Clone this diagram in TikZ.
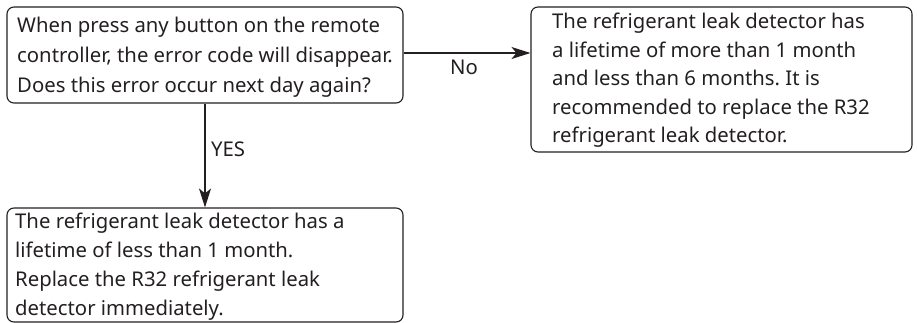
\documentclass[tikz,border=0pt]{standalone}
\usepackage{fontspec}
\setmainfont{Noto Sans}
\usetikzlibrary{arrows.meta}
\definecolor{ink}{HTML}{231F20}
\newcommand{\boxtext}[2]{\parbox[t]{450pt}{\raggedright\frenchspacing\fontsize{20.3}{#1}\selectfont #2}}
\begin{document}
\begin{tikzpicture}[x=1pt,y=-1pt,
  box/.style={draw=ink, line width=1.1pt, rounded corners=7pt, rectangle, inner sep=0pt},
  txt/.style={text=ink, anchor=base west, inner sep=0pt},
  arr/.style={draw=ink, line width=1.1pt, -{Stealth[length=19pt,width=12pt,inset=5pt]}},
  lbl/.style={text=ink, font=\fontsize{20.3}{24}\selectfont, inner sep=0pt}]
\useasboundingbox (0,0) rectangle (917,323);
\node[box, minimum width=396pt, minimum height=96pt] (q) at (205,55) {};
\node[box, minimum width=381pt, minimum height=145pt] (no) at (721.5,79.5) {};
\node[box, minimum width=396pt, minimum height=114pt] (yes) at (205,265) {};
\node[txt] (qt) at (17,33) {\boxtext{30}{When press any button on the remote\\controller, the error code will disappear.\\Does this error occur next day again?}};
\node[txt] (not) at (552,29) {\boxtext{28.5}{The refrigerant leak detector has\\a lifetime of more than 1 month\\and less than 6 months. It is\\recommended to replace the R32\\refrigerant leak detector.}};
\node[txt] (yest) at (15,228) {\boxtext{29}{The refrigerant leak detector has a\\lifetime of less than 1 month.\\Replace the R32 refrigerant leak\\detector immediately.}};
\draw[arr] (q.east |- 0,53) -- (no.west |- 0,53);
\draw[arr] (q.south) -- (yes.north);
\node[lbl] (nol) at (464,67.5) {No};
\node[lbl, anchor=west] (yesl) at (211,149) {YES};
\end{tikzpicture}
\end{document}
